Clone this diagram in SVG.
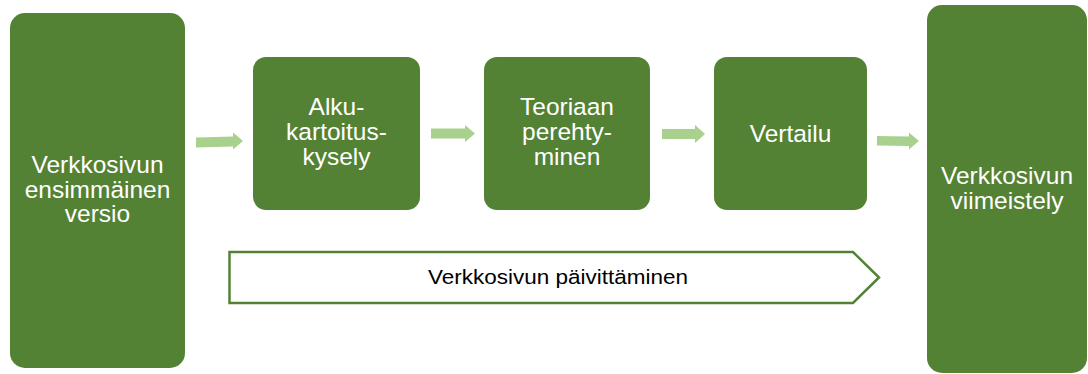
<svg xmlns="http://www.w3.org/2000/svg" width="1088" height="374" viewBox="0 0 1088 374">
<style>
.box{fill:#548235;}
.t{font-family:"Liberation Sans",Arial,sans-serif;font-size:24.5px;fill:#ffffff;text-anchor:middle;}
.arr{fill:#A9D18E;}
.chev{fill:#ffffff;stroke:#548235;stroke-width:2.5;}
.bt{font-family:"Liberation Sans",Arial,sans-serif;font-size:20.5px;fill:#000000;text-anchor:middle;}
</style>
<rect width="1088" height="374" fill="#ffffff"/>
<g id="connectors">
<polygon class="arr" points="196,137.5 233,136.5 233,132.5 243,141 233,149.5 233,146.5 196,147.5"/>
<polygon class="arr" points="431,128.5 465,128.5 465,125 475,133.5 465,142 465,138.5 431,138.5"/>
<polygon class="arr" points="662,129 695,129 695,125 705,134 695,143 695,139 662,139"/>
<polygon class="arr" points="877,136 909,136.5 909,132.5 919,141 909,149.5 909,146 877,145.5"/>
</g>
<g id="node-first">
<rect class="box" x="10" y="13" width="175" height="355" rx="15"/>
<text class="t" x="97.5" y="173">Verkkosivun</text>
<text class="t" x="97.5" y="197.5">ensimmäinen</text>
<text class="t" x="97.5" y="222">versio</text>
</g>
<g id="node-alku">
<rect class="box" x="253" y="57" width="167" height="153" rx="13"/>
<text class="t" x="336.5" y="115">Alku-</text>
<text class="t" x="336.5" y="140">kartoitus-</text>
<text class="t" x="336.5" y="164.5">kysely</text>
</g>
<g id="node-teoria">
<rect class="box" x="484" y="57" width="166" height="153" rx="13"/>
<text class="t" x="567" y="115">Teoriaan</text>
<text class="t" x="567" y="140">perehty-</text>
<text class="t" x="567" y="164.5">minen</text>
</g>
<g id="node-vertailu">
<rect class="box" x="714" y="57" width="153" height="153" rx="13"/>
<text class="t" x="790.5" y="141.5">Vertailu</text>
</g>
<g id="node-last">
<rect class="box" x="927" y="5" width="160" height="368" rx="15"/>
<text class="t" x="1007" y="184">Verkkosivun</text>
<text class="t" x="1007" y="208.5">viimeistely</text>
</g>
<g id="node-update">
<polygon class="chev" points="229.5,252 853,252 879,277.5 853,303 229.5,303"/>
<text class="bt" x="558" y="284" textLength="260" lengthAdjust="spacingAndGlyphs">Verkkosivun päivittäminen</text>
</g>
</svg>
